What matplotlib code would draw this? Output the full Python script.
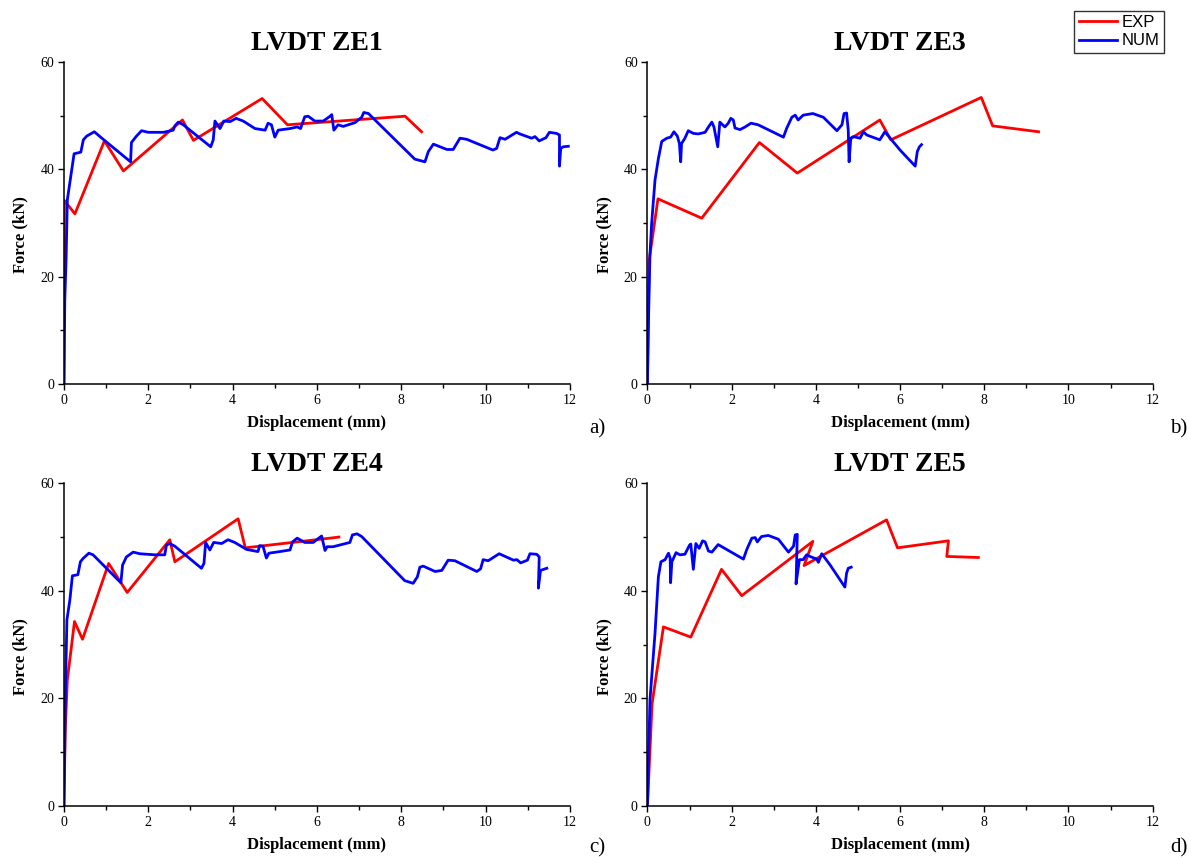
import matplotlib.pyplot as plt
from matplotlib.ticker import MultipleLocator

plt.rcParams['font.family'] = ['Liberation Serif', 'DejaVu Serif']

# LVDT ZE1
ze1_exp_x = [0, 0.01, 0.26, 0.96, 1.41, 2.81, 3.07, 4.70, 5.30, 8.09, 8.48]
ze1_exp_y = [0, 34.2, 31.7, 45.3, 39.7, 49.2, 45.4, 53.2, 48.3, 49.9, 47.0]
ze1_num_x = [0, 0.02, 0.05, 0.08, 0.16, 0.24, 0.40, 0.46, 0.54, 0.72, 0.93, 1.58, 1.60, 1.71, 1.84,
             2.00, 2.36, 2.59, 2.63, 2.71, 2.83, 3.48, 3.54, 3.58, 3.70, 3.79, 3.94, 4.08, 4.25,
             4.53, 4.77, 4.84, 4.92, 5.00, 5.08, 5.36, 5.53, 5.61, 5.71, 5.79, 5.95, 6.15, 6.31,
             6.35, 6.40, 6.50, 6.62, 6.90, 7.06, 7.11, 7.22, 8.32, 8.56, 8.64, 8.76, 9.08, 9.23,
             9.39, 9.55, 10.17, 10.26, 10.34, 10.46, 10.73, 10.81, 11.09, 11.17, 11.27, 11.43,
             11.51, 11.68, 11.75, 11.75, 11.78, 11.84, 11.96]
ze1_num_y = [0, 15.7, 23.1, 34.3, 38.6, 42.9, 43.2, 45.5, 46.2, 47.0, 45.6, 41.4, 45.0, 46.1, 47.2,
             46.9, 46.9, 47.3, 48.1, 48.8, 48.3, 44.2, 45.5, 49.0, 47.6, 49.0, 48.9, 49.5, 49.0,
             47.6, 47.3, 48.6, 48.3, 46.0, 47.3, 47.6, 47.9, 47.6, 49.8, 49.9, 49.0, 49.0, 49.9,
             50.2, 47.3, 48.3, 48.0, 48.7, 49.7, 50.6, 50.4, 41.9, 41.4, 43.3, 44.7, 43.7, 43.7,
             45.8, 45.6, 43.6, 43.9, 45.9, 45.6, 46.9, 46.6, 45.8, 46.1, 45.3, 45.9,
             46.9, 46.7, 46.4, 40.6, 43.9, 44.2, 44.3]

# LVDT ZE3
ze3_exp_x = [0, 0.04, 0.25, 1.29, 2.66, 3.56, 5.52, 5.78, 7.93, 8.20, 9.29]
ze3_exp_y = [0, 23.0, 34.5, 30.9, 45.0, 39.3, 49.2, 45.5, 53.4, 48.1, 47.0]
ze3_num_x = [0, 0.02, 0.06, 0.10, 0.18, 0.26, 0.34, 0.46, 0.55, 0.63, 0.71, 0.76, 0.79, 0.81, 0.89,
             0.97, 1.09, 1.21, 1.37, 1.45, 1.53, 1.58, 1.67, 1.72, 1.84, 1.92, 1.98, 2.04, 2.08,
             2.20, 2.32, 2.46, 2.63, 3.23, 3.31, 3.43, 3.51, 3.58, 3.70, 3.93, 4.18, 4.50, 4.62,
             4.67, 4.73, 4.77, 4.79, 4.83, 4.89, 5.05, 5.13, 5.21, 5.52, 5.64, 6.00, 6.36, 6.41,
             6.46, 6.51]
ze3_num_y = [0, 10.0, 24.0, 29.9, 38.0, 42.0, 45.2, 45.8, 46.0, 47.0, 46.2, 44.8, 41.4, 44.8, 45.8,
             47.2, 46.7, 46.6, 46.9, 47.9, 48.8, 47.9, 44.2, 48.8, 47.9, 48.6, 49.5, 49.2, 47.7,
             47.4, 47.9, 48.6, 48.3, 46.0, 47.7, 49.7, 50.1, 49.2, 50.1, 50.4, 49.7, 47.2, 48.3,
             50.4, 50.5, 47.3, 41.4, 45.8, 46.1, 45.8, 47.0, 46.4, 45.5, 47.0, 43.6, 40.6, 43.3,
             44.2, 44.6]

# LVDT ZE4
ze4_exp_x = [0, 0.03, 0.08, 0.25, 0.44, 1.06, 1.50, 2.51, 2.63, 4.13, 4.30, 6.31, 6.52]
ze4_exp_y = [0, 14.0, 23.4, 34.3, 31.0, 45.1, 39.7, 49.5, 45.4, 53.4, 48.0, 49.8, 50.0]
ze4_num_x = [0, 0.02, 0.04, 0.07, 0.14, 0.20, 0.33, 0.39, 0.45, 0.59, 0.69, 1.35, 1.39, 1.48, 1.64,
             1.80, 2.15, 2.39, 2.43, 2.51, 2.63, 3.26, 3.32, 3.36, 3.46, 3.55, 3.74, 3.89, 4.05,
             4.33, 4.60, 4.64, 4.72, 4.80, 4.86, 5.12, 5.36, 5.42, 5.53, 5.71, 5.91, 6.11, 6.19,
             6.24, 6.38, 6.78, 6.84, 6.95, 7.06, 8.08, 8.28, 8.38, 8.44, 8.52, 8.80, 8.96, 9.11,
             9.27, 9.79, 9.88, 9.94, 10.06, 10.32, 10.66, 10.74, 10.83, 10.99, 11.05, 11.21,
             11.27, 11.25, 11.30, 11.45]
ze4_num_y = [0, 12.0, 23.4, 34.6, 38.3, 42.8, 43.0, 45.4, 46.0, 47.0, 46.7, 41.5, 44.8, 46.3, 47.2,
             46.9, 46.7, 46.7, 48.5, 48.8, 48.3, 44.2, 45.1, 49.0, 47.6, 49.0, 48.8, 49.5, 49.0,
             47.7, 47.3, 48.4, 48.3, 46.1, 47.0, 47.3, 47.6, 49.1, 49.8, 49.0, 49.0, 50.2, 47.5,
             48.2, 48.2, 49.0, 50.4, 50.6, 50.1, 41.9, 41.4, 42.6, 44.4, 44.6, 43.6, 43.8, 45.7,
             45.6, 43.6, 44.1, 45.8, 45.6, 46.9, 45.7, 45.8, 45.2, 45.7, 46.9, 46.8,
             46.3, 40.5, 43.8, 44.2]

# LVDT ZE5
ze5_exp_x = [0, 0.11, 0.38, 1.03, 1.76, 2.24, 3.93, 3.72, 5.68, 5.94, 7.15, 7.11, 7.86]
ze5_exp_y = [0, 19.0, 33.3, 31.4, 44.0, 39.1, 49.2, 44.7, 53.2, 48.0, 49.3, 46.4, 46.2]
ze5_num_x = [0, 0.06, 0.18, 0.26, 0.32, 0.42, 0.50, 0.54, 0.55, 0.58, 0.68, 0.77, 0.89, 1.00, 1.03,
             1.09, 1.15, 1.23, 1.31, 1.37, 1.45, 1.53, 1.68, 2.28, 2.36, 2.48, 2.56, 2.61, 2.71,
             2.87, 3.11, 3.35, 3.47, 3.51, 3.56, 3.53, 3.61, 3.70, 3.78, 3.86, 4.02, 4.06, 4.14,
             4.34, 4.69, 4.73, 4.77, 4.84]
ze5_num_y = [0, 19.7, 32.1, 42.6, 45.4, 45.8, 47.0, 46.1, 41.5, 45.4, 47.1, 46.7, 46.8, 48.5, 48.7,
             44.0, 48.8, 47.9, 49.3, 49.1, 47.4, 47.2, 48.6, 45.9, 47.7, 49.8, 49.9, 49.1, 50.1,
             50.3, 49.6, 47.2, 48.3, 50.4, 50.5, 41.3, 45.8, 45.8, 46.7, 46.4, 45.9, 45.3, 46.9,
             44.8, 40.7, 43.3, 44.2, 44.4]

titles = ['LVDT ZE1', 'LVDT ZE3', 'LVDT ZE4', 'LVDT ZE5']
tags = ['a)', 'b)', 'c)', 'd)']
exp_data = [(ze1_exp_x, ze1_exp_y), (ze3_exp_x, ze3_exp_y), (ze4_exp_x, ze4_exp_y), (ze5_exp_x, ze5_exp_y)]
num_data = [(ze1_num_x, ze1_num_y), (ze3_num_x, ze3_num_y), (ze4_num_x, ze4_num_y), (ze5_num_x, ze5_num_y)]

# axes boxes [left, bottom, width, height] in figure fraction
boxes = [[0.0537, 0.5530, 0.4249, 0.3748],
         [0.5436, 0.5530, 0.4242, 0.3748],
         [0.0537, 0.0617, 0.4249, 0.3757],
         [0.5436, 0.0617, 0.4242, 0.3757]]
tag_pos = [(0.4945, 0.5005), (0.9824, 0.5005), (0.4945, 0.0128), (0.9824, 0.0128)]

fig = plt.figure(figsize=(11.91, 8.59), dpi=100)

lines = []
for i in range(4):
    ax = fig.add_axes(boxes[i])
    ex, ey = exp_data[i]
    nx, ny = num_data[i]
    l1, = ax.plot(ex, ey, color='#ff0000', lw=2.0, label='EXP')
    l2, = ax.plot(nx, ny, color='#0000ff', lw=2.0, label='NUM')
    if i == 0:
        lines = [l1, l2]

    ax.set_xlim(0, 12)
    ax.set_ylim(0, 60)
    ax.xaxis.set_major_locator(MultipleLocator(2))
    ax.xaxis.set_minor_locator(MultipleLocator(1))
    ax.yaxis.set_major_locator(MultipleLocator(20))
    ax.yaxis.set_minor_locator(MultipleLocator(10))
    ax.tick_params(which='major', direction='out', length=4, width=1.0, labelsize=10, pad=3)
    ax.tick_params(which='minor', direction='out', length=3, width=1.0)
    ax.spines['top'].set_visible(False)
    ax.spines['right'].set_visible(False)
    ax.spines['left'].set_linewidth(1.1)
    ax.spines['bottom'].set_linewidth(1.1)

    ax.set_title(titles[i], fontsize=20, fontweight='bold', pad=9)
    ax.set_xlabel('Displacement (mm)', fontsize=12, fontweight='bold')
    ax.set_ylabel('Force (kN)', fontsize=12, fontweight='bold')
    ax.xaxis.label.set_va('center')
    ax.yaxis.label.set_va('center')
    ax.xaxis.set_label_coords(0.5, -0.121)
    ax.yaxis.set_label_coords(-0.086, 0.463)

    fig.text(tag_pos[i][0], tag_pos[i][1], tags[i], fontsize=15, ha='left', va='center')

fig.legend(lines, ['EXP', 'NUM'], loc='upper right', bbox_to_anchor=(0.9773, 0.9872),
           borderaxespad=0, fancybox=False, edgecolor='#333333', framealpha=1,
           prop={'family': 'Liberation Sans', 'size': 12}, handlelength=2.3,
           handletextpad=0.3, labelspacing=0.2, borderpad=0.25)

fig.savefig('out.png', dpi=100, facecolor='white')
